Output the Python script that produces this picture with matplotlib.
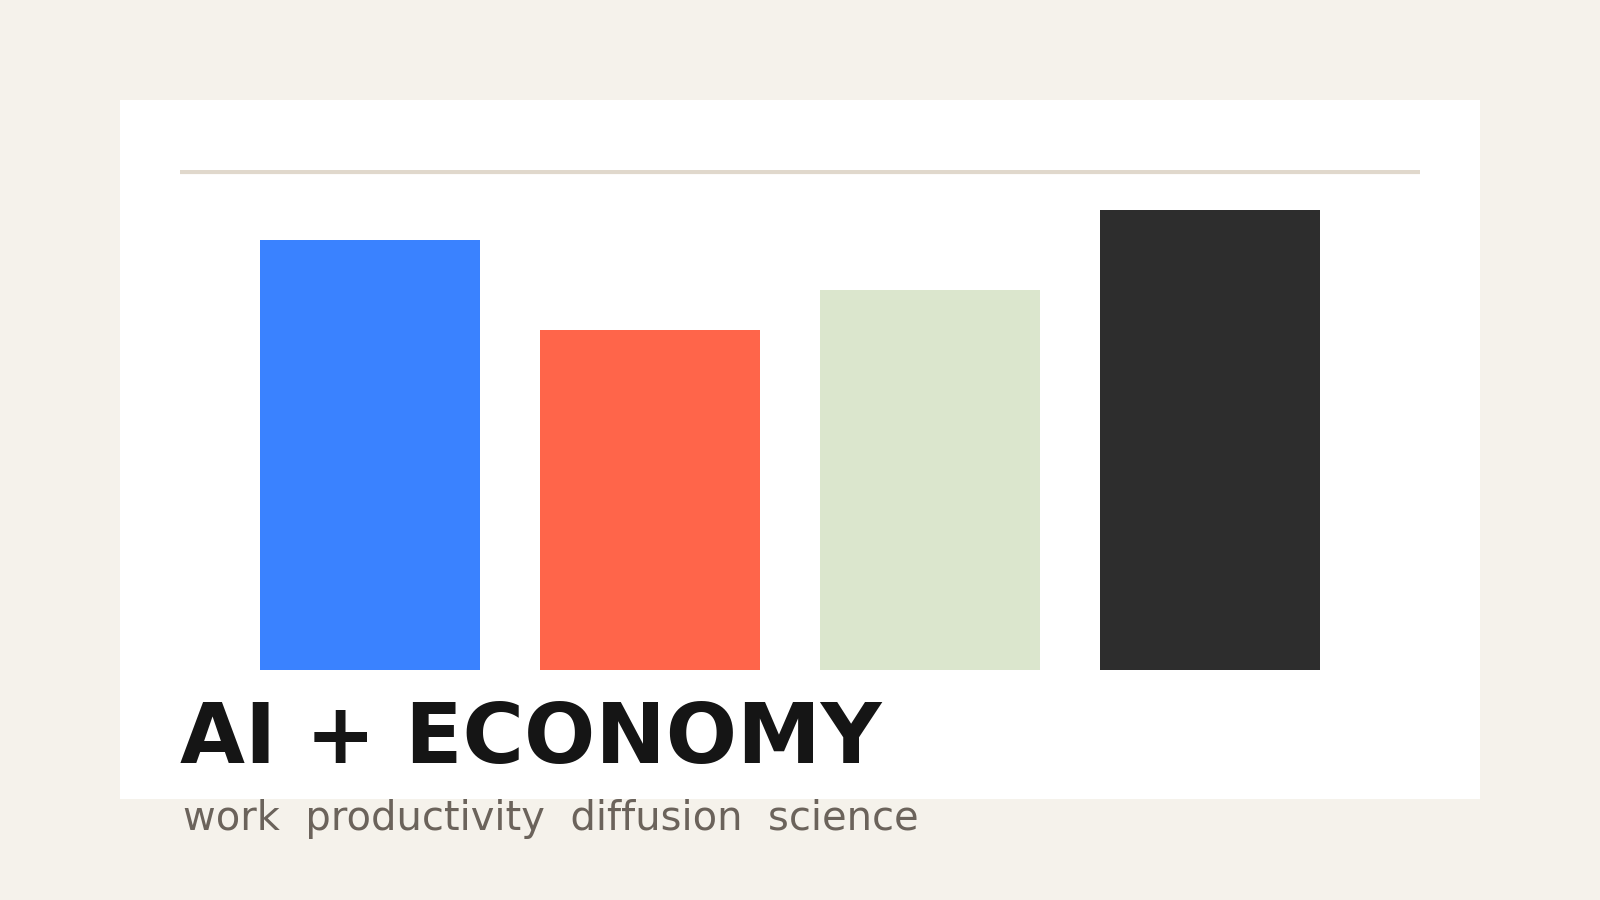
import matplotlib
matplotlib.use("Agg")
import matplotlib.pyplot as plt
from matplotlib.patches import Rectangle

# datos
categorias = ["work", "productivity", "diffusion", "science"]
valores = [86.4, 68.4, 76.4, 92.4]
colores = ["#3a82ff", "#ff654a", "#dbe6cd", "#2d2d2d"]
titulo = "AI + ECONOMY"
subtitulo = "  ".join(categorias)

fig = plt.figure(figsize=(16, 9), dpi=100)
fig.patch.set_facecolor("#f5f2eb")

# panel blanco (detras de todo)
fig.patches.append(Rectangle((0.075, 0.1122), 0.85, 0.7767, transform=fig.transFigure,
                             facecolor="white", edgecolor="none", zorder=-10))

ax = fig.add_axes([0.1125, 0.2556, 0.775, 0.5556])
ax.set_zorder(5)
ax.set_facecolor("none")
x = range(len(valores))
ax.bar(x, valores, width=0.786, color=colores)
ax.axhline(100, color="#e0d8cc", lw=3)
ax.set_xlim(-0.679, 3.75)
ax.set_ylim(0, 100.5)
ax.axis("off")

fig.text(0.1125, 0.152, titulo, fontsize=60.5, fontweight="bold", color="#151515",
         ha="left", va="baseline")
fig.text(0.1145, 0.078, subtitulo, fontsize=28.8, color="#6b635b",
         ha="left", va="baseline")

plt.savefig("out.png", dpi=100, facecolor=fig.get_facecolor())
